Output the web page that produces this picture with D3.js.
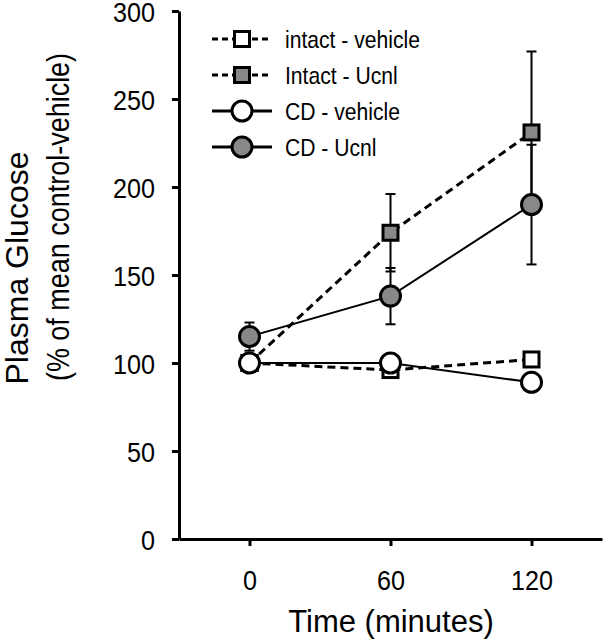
<!DOCTYPE html>
<html><head><meta charset="utf-8">
<script src="https://cdn.jsdelivr.net/npm/d3@7"></script>
<style>body{margin:0;background:#fff}svg{display:block}text{font-family:"Liberation Sans",Arial,sans-serif;fill:#000}</style>
</head><body><svg id="c" width="603" height="639"></svg>
<script>
const times = [0, 60, 120];
const yTicks = [0, 50, 100, 150, 200, 250, 300];
const xTicks = [0, 60, 120];
const seriesNames = ["intact - vehicle", "Intact - Ucnl", "CD - vehicle", "CD - Ucnl"];
const intactVehicle = [100, 96, 102];
const intactVehicleErr = [3, 2, 3];
const intactUcnl = [100, 174, 231];
const intactUcnlErr = [3, 22, 46];
const cdVehicle = [100, 100, 89];
const cdVehicleErr = [3, 2, 5];
const cdUcnl = [115, 138, 190];
const cdUcnlErr = [8, 16, 34];

const series = [
  {name: seriesNames[0], vals: intactVehicle, err: intactVehicleErr, shape: "square", fill: "#fff", dashed: true},
  {name: seriesNames[1], vals: intactUcnl, err: intactUcnlErr, shape: "square", fill: "#888", dashed: true},
  {name: seriesNames[2], vals: cdVehicle, err: cdVehicleErr, shape: "circle", fill: "#fff", dashed: false},
  {name: seriesNames[3], vals: cdUcnl, err: cdUcnlErr, shape: "circle", fill: "#888", dashed: false}
];

const svg = d3.select("#c");
const x = d3.scaleLinear().domain([-30, 150]).range([179, 602]);
const y = d3.scaleLinear().domain([0, 300]).range([539, 11]);

// axes
const yAxis = svg.append("g").attr("transform", "translate(179,0)")
  .call(d3.axisLeft(y).tickValues(yTicks).tickSize(7).tickSizeOuter(0));
const xAxis = svg.append("g").attr("transform", "translate(0,539)")
  .call(d3.axisBottom(x).tickValues(xTicks).tickSize(7).tickSizeOuter(0));
[yAxis, xAxis].forEach(a => {
  a.select(".domain").attr("stroke", "#000").attr("stroke-width", 3);
  a.selectAll(".tick line").attr("stroke", "#000").attr("stroke-width", 3);
  a.selectAll(".tick text").style("font-size", "28px").attr("fill", "#000");
});
yAxis.selectAll(".tick text").attr("x", null).attr("dy", "0.36em").attr("transform", "translate(-24,0) scale(0.9,1)");
xAxis.selectAll(".tick text").attr("y", null).attr("dy", "0.71em").attr("transform", "translate(0,31) scale(0.9,1)");

// titles
svg.append("text").attr("x", 391).attr("y", 632).attr("text-anchor", "middle")
  .style("font-size", "31px").text("Time (minutes)");
svg.append("text").attr("transform", "translate(28,268) rotate(-90)").attr("text-anchor", "middle")
  .style("font-size", "32px").text("Plasma Glucose");
svg.append("text").attr("transform", "translate(69,217) rotate(-90) scale(0.87,1)").attr("text-anchor", "middle")
  .style("font-size", "31px").text("(% of mean control-vehicle)");

const line = d3.line().x((d, i) => x(times[i])).y(d => y(d));
const plot = svg.append("g");

// error bars
series.forEach(s => {
  s.vals.forEach((v, i) => {
    const cx = x(times[i]);
    plot.append("line").attr("x1", cx).attr("x2", cx).attr("y1", y(v - s.err[i])).attr("y2", y(v + s.err[i]))
      .attr("stroke", "#000").attr("stroke-width", 2);
    [v - s.err[i], v + s.err[i]].forEach(e => {
      plot.append("line").attr("x1", cx - 5).attr("x2", cx + 5).attr("y1", y(e)).attr("y2", y(e))
        .attr("stroke", "#000").attr("stroke-width", 2);
    });
  });
});

// lines
series.forEach(s => {
  plot.append("path").attr("d", line(s.vals)).attr("fill", "none").attr("stroke", "#000")
    .attr("stroke-width", s.dashed ? 3 : 2).attr("stroke-dasharray", s.dashed ? "8,5" : null);
});

function marker(g, shape, cx, cy, fill) {
  if (shape === "square") {
    g.append("rect").attr("x", cx - 7.5).attr("y", cy - 7.5).attr("width", 15).attr("height", 15)
      .attr("fill", fill).attr("stroke", "#000").attr("stroke-width", 3);
  } else {
    g.append("circle").attr("cx", cx).attr("cy", cy).attr("r", 10)
      .attr("fill", fill).attr("stroke", "#000").attr("stroke-width", 3);
  }
}
series.forEach(s => s.vals.forEach((v, i) => marker(plot, s.shape, x(times[i]), y(v), s.fill)));

// legend
const leg = svg.append("g");
series.forEach((s, i) => {
  const ly = 39 + i * 36;
  leg.append("line").attr("x1", 212).attr("x2", 272).attr("y1", ly).attr("y2", ly)
    .attr("stroke", "#000").attr("stroke-width", 3).attr("stroke-dasharray", s.dashed ? "6,4" : null);
  marker(leg, s.shape, 242, ly, s.fill);
  leg.append("text").attr("transform", `translate(285,${ly + 9}) scale(0.88,1)`).style("font-size", "24px").text(s.name);
});
</script></body></html>
